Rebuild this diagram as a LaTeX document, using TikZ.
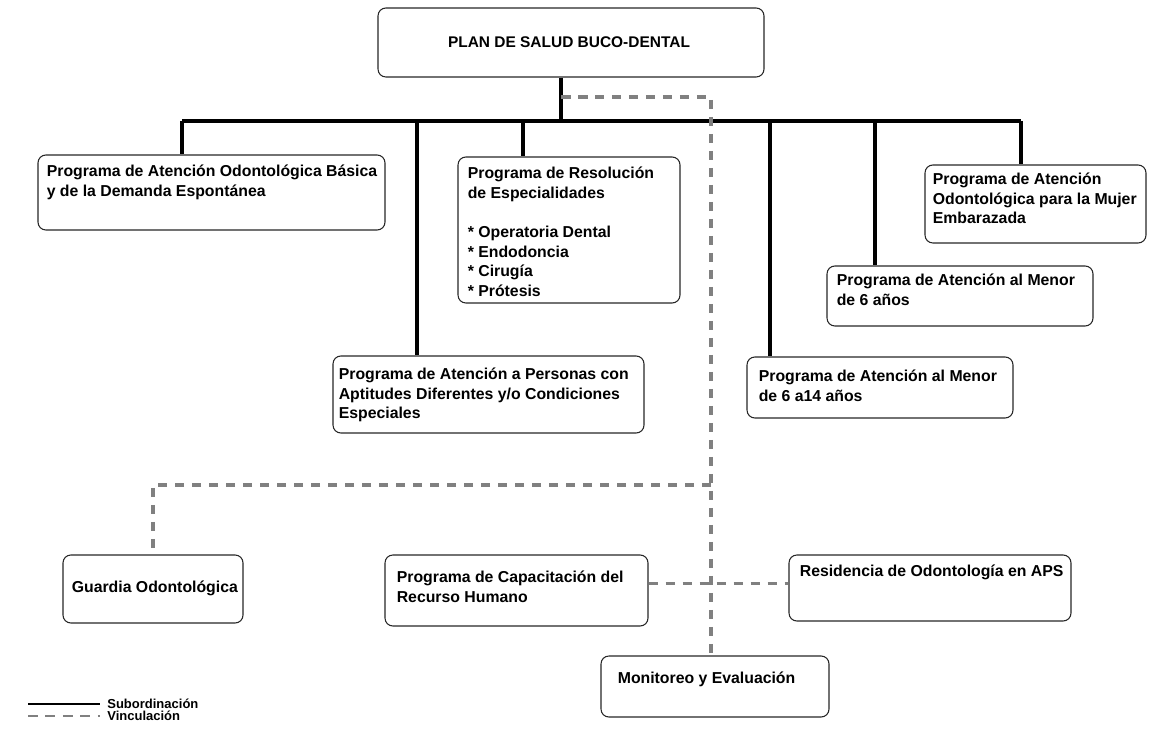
\documentclass[tikz,border=0pt]{standalone}
\usepackage{fontspec}
\setmainfont{Liberation Sans}
\usetikzlibrary{fit}
\tikzset{
  box/.style={draw=black!85, line width=0.6pt, rounded corners=4.5pt, inner sep=0pt},
  boxtext/.style={anchor=north west, inner sep=0pt, align=left,
    font=\fontsize{9}{11.2}\selectfont\bfseries},
  sub/.style={line width=2pt, black},
  vinc/.style={line width=2pt, black!50, dash pattern=on 0.19cm off 0.15cm},
  legtext/.style={anchor=west, inner sep=0pt, font=\fontsize{7.4}{8}\selectfont\bfseries}
}
\begin{document}
\begin{tikzpicture}[x=0.02cm, y=-0.02cm]
\useasboundingbox (0,0) rectangle (1159,736);
% cajas
\node[box, fit={(378,8) (764,77)}] (plan) {};
\node[inner sep=0pt, font=\fontsize{8.8}{11.2}\selectfont\bfseries] (plantxt) at (569,42) {PLAN DE SALUD BUCO-DENTAL};

\node[box, fit={(38,155) (385,230)}] (basica) {};
\node[boxtext] (basicatxt) at ([shift={(9,10)}]basica.north west)
  {Programa de Atención Odontológica Básica\\y de la Demanda Espontánea};

\node[box, fit={(458,157) (680,303)}] (resol) {};
\node[boxtext] (resoltxt) at ([shift={(10,10)}]resol.north west)
  {Programa de Resolución\\de Especialidades\\[11.2pt]{*} Operatoria Dental\\{*} Endodoncia\\{*} Cirugía\\{*} Prótesis};

\node[box, fit={(925,165) (1146,243)}] (mujer) {};
\node[boxtext] (mujertxt) at ([shift={(8,8)}]mujer.north west)
  {Programa de Atención\\Odontológica para la Mujer\\Embarazada};

\node[box, fit={(827,266) (1093,326)}] (menor) {};
\node[boxtext] (menortxt) at ([shift={(10,8)}]menor.north west)
  {Programa de Atención al Menor\\de 6 años};

\node[box, fit={(333,356) (644,433)}] (personas) {};
\node[boxtext] (personastxt) at ([shift={(6,12)}]personas.north west)
  {Programa de Atención a Personas con\\Aptitudes Diferentes y/o Condiciones\\Especiales};

\node[box, fit={(747,357) (1013,418)}] (escolar) {};
\node[boxtext] (escolartxt) at ([shift={(12,13)}]escolar.north west)
  {Programa de Atención al Menor\\de 6 a14 años};

\node[box, fit={(63,555) (243,623)}] (guardia) {};
\node[boxtext] (guardiatxt) at ([shift={(9,26)}]guardia.north west)
  {Guardia Odontológica};

\node[box, fit={(385,555) (648,626)}] (capac) {};
\node[boxtext] (capactxt) at ([shift={(12,16)}]capac.north west)
  {Programa de Capacitación del\\Recurso Humano};

\node[box, fit={(789,555) (1071,621)}] (resid) {};
\node[boxtext] (residtxt) at ([shift={(11,10)}]resid.north west)
  {Residencia de Odontología en APS};

\node[box, fit={(601,656) (829,717)}] (monit) {};
\node[boxtext] (monittxt) at ([shift={(17,16)}]monit.north west)
  {Monitoreo y Evaluación};

% subordinacion
\coordinate (d0) at (561,121);
\foreach \n/\x in {A/182, B/417, C/523, D/770, E/875, F/1021}
  \coordinate (d\n) at (\x,121);
\draw[sub] (plan.south -| d0) -- (d0);
\draw[sub] (dA) -- (dF);
\draw[sub] (dA) -- (dA |- basica.north);
\draw[sub] (dB) -- (dB |- personas.north);
\draw[sub] (dC) -- (dC |- resol.north);
\draw[sub] (dD) -- (dD |- escolar.north);
\draw[sub] (dE) -- (dE |- menor.north);
\draw[sub] (dF) -- (dF |- mujer.north);

% vinculacion
\coordinate (v0) at (561,97);
\coordinate (v1) at (711,97);
\coordinate (v2) at (711,485);
\draw[vinc] (v0) -- (v1) -- (v1 |- monit.north);
\draw[vinc] (v2) -| (guardia.north);
\draw[vinc] ([yshift=4pt]capac.east) -- ([yshift=4pt]capac.east -| resid.west);

% leyenda
\coordinate (ls0) at (28,704);
\coordinate (ls1) at (100,704);
\coordinate (lv0) at (28,716);
\coordinate (lv1) at (100,716);
\draw[sub, line width=1.3pt] (ls0) -- (ls1);
\draw[vinc, line width=1.3pt, dash pattern=on 0.2cm off 0.15cm] (lv0) -- (lv1);
\node[legtext] (lsub) at ([xshift=4pt]ls1) {Subordinación};
\node[legtext] (lvin) at ([xshift=4pt]lv1) {Vinculación};
\end{tikzpicture}
\end{document}
